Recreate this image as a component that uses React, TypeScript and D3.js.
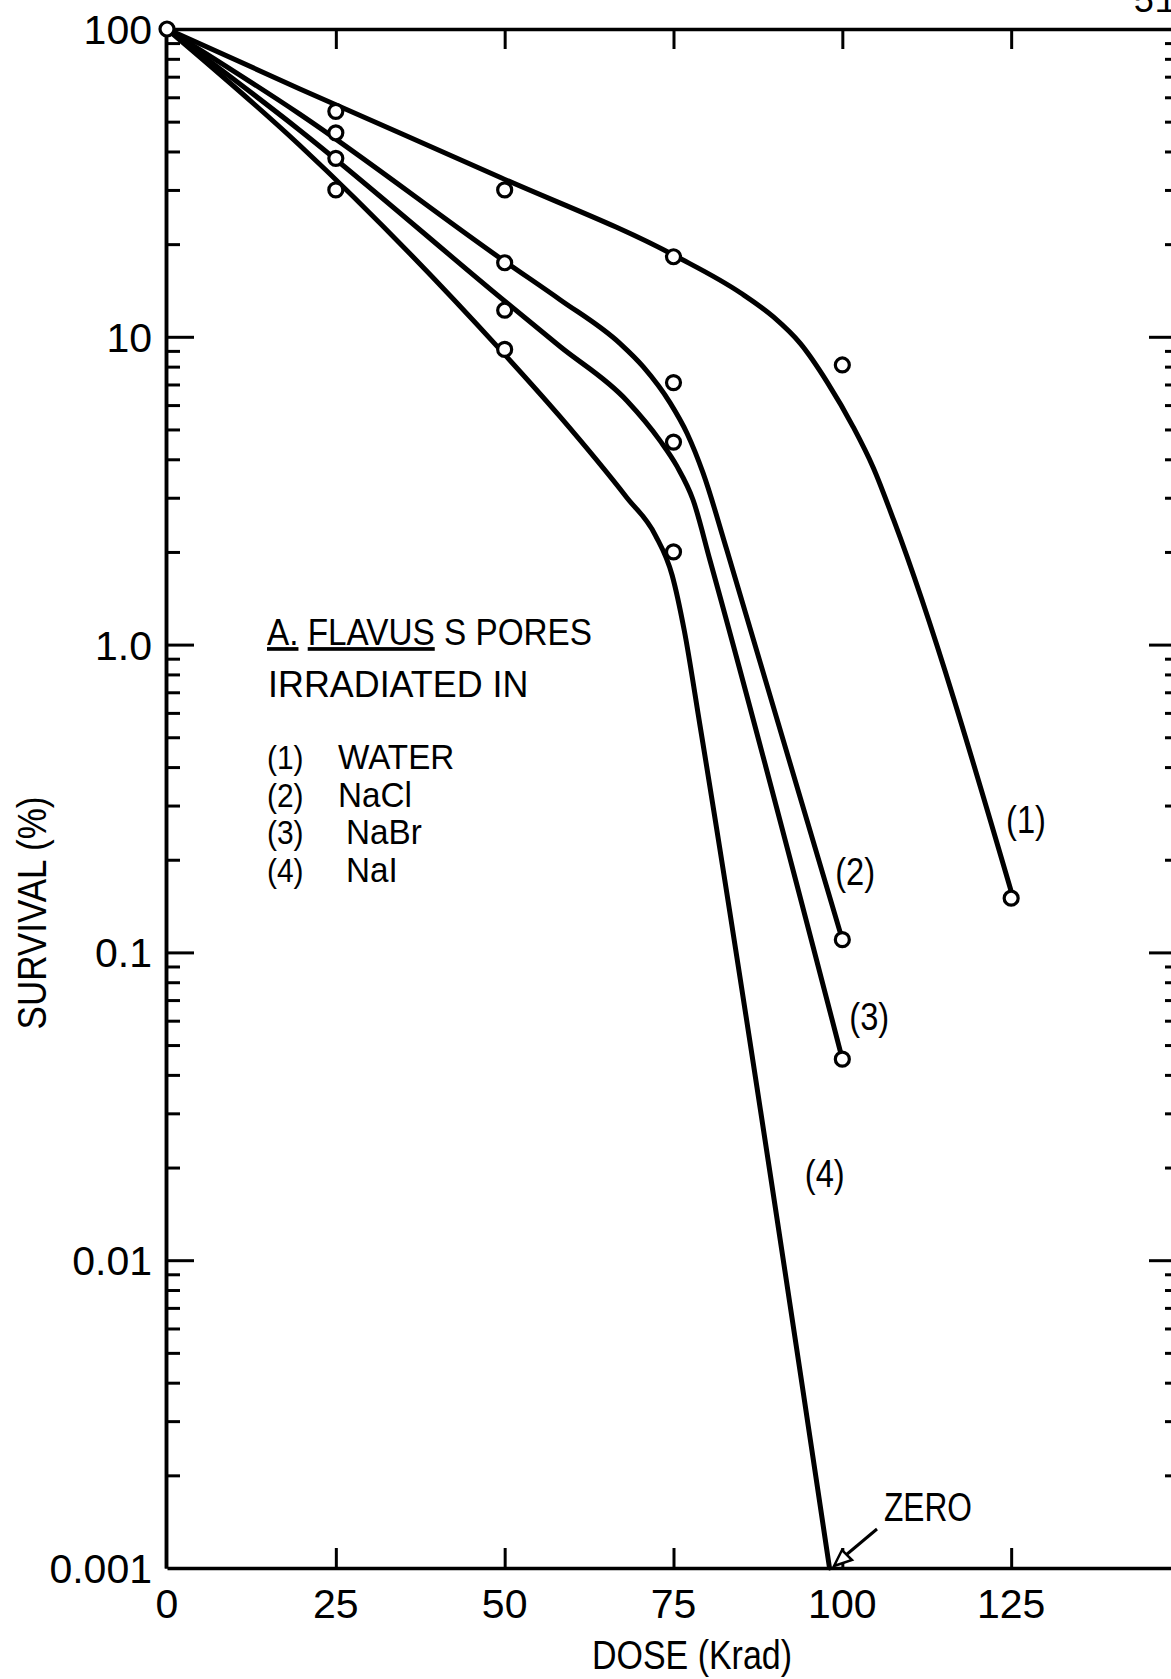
import React, { useEffect, useRef } from 'react';
import * as d3 from 'd3';

// Axis ticks
const doseTicks = [0, 25, 50, 75, 100, 125];
const survivalDecades = [100, 10, 1, 0.1, 0.01, 0.001];
const survivalLabels = ['100', '10', '1.0', '0.1', '0.01', '0.001'];

// Measured points [dose Krad, survival %]
const waterPoints: [number, number][] = [[0, 100], [25, 54], [50, 30], [75, 18.2], [100, 8.1], [125, 0.15]];
const naclPoints: [number, number][] = [[25, 46], [50, 17.4], [75, 7.1], [100, 0.11]];
const nabrPoints: [number, number][] = [[25, 38], [50, 12.2], [75, 4.55], [100, 0.045]];
const naiPoints: [number, number][] = [[25, 30], [50, 9.1], [75, 2.0]];

// Hand-fitted survival curves
const waterCurve: [number, number][] = [[0, 100], [19.6, 64], [49.3, 33], [75.5, 18.2], [84.9, 13.9], [89.8, 11.6], [93.8, 9.5], [97.8, 7.1], [101.6, 5.1], [104.6, 3.75], [107.6, 2.54], [125.3, 0.15]];
const naclCurve: [number, number][] = [[0, 100], [19.6, 53], [50.3, 17.4], [58.2, 13.2], [67.1, 9.5], [70.5, 8.0], [74.5, 6.1], [77, 4.86], [79.4, 3.6], [82.9, 2.03], [100, 0.11]];
const nabrCurve: [number, number][] = [[0, 100], [19.6, 47], [50.3, 12.9], [58.2, 9.3], [68.1, 6.2], [73, 4.6], [75.5, 3.8], [77.9, 2.95], [80.4, 1.88], [100, 0.045]];
const naiCurve: [number, number][] = [[0, 100], [19.6, 42], [49.3, 9.1], [58.2, 5.5], [68.1, 3.0], [72.3, 2.27], [74.8, 1.68], [76.6, 1.11], [78.9, 0.55], [98.1, 0.001]];

const curveTags = ['(1)', '(2)', '(3)', '(4)'];
const media = ['WATER', 'NaCl', 'NaBr', 'NaI'];

const FONT = "'Liberation Sans', Arial, sans-serif";

const App = () => {
  const ref = useRef<SVGSVGElement>(null);

  useEffect(() => {
    const svg = d3.select(ref.current);
    svg.selectAll('*').remove();

    const x = d3.scaleLinear().domain([0, 150]).range([167, 1180]);
    const y = d3.scaleLog().domain([0.001, 100]).range([1568, 29]);

    // minor log ticks 2..9 in every decade
    const minor: number[] = [];
    for (let e = -3; e < 2; e++) for (let m = 2; m <= 9; m++) minor.push(m * Math.pow(10, e));
    const inner = [10, 1, 0.1, 0.01];

    const axes = svg.append('g');
    const styleAxis = (g: any) => {
      g.selectAll('text').remove();
      g.selectAll('line').attr('stroke', '#000').attr('stroke-width', 3);
      g.selectAll('path').attr('stroke', '#000').attr('stroke-width', 3.5);
    };

    // left axis, ticks pointing inward
    axes.append('g').attr('transform', 'translate(166,0)')
      .call(d3.axisRight(y).tickValues(minor).tickSize(14).tickSizeOuter(0)).call(styleAxis);
    axes.append('g').attr('transform', 'translate(166,0)')
      .call(d3.axisRight(y).tickValues(inner).tickSize(28).tickSizeOuter(0)).call(styleAxis);

    // right axis (mostly off the page)
    axes.append('g').attr('transform', 'translate(1177,0)')
      .call(d3.axisLeft(y).tickValues(minor).tickSize(12).tickSizeOuter(0)).call(styleAxis);
    axes.append('g').attr('transform', 'translate(1177,0)')
      .call(d3.axisLeft(y).tickValues(inner).tickSize(28).tickSizeOuter(0)).call(styleAxis);

    // top and bottom axes
    axes.append('g').attr('transform', 'translate(0,29)')
      .call(d3.axisBottom(x).tickValues(doseTicks.slice(1)).tickSize(20).tickSizeOuter(0)).call(styleAxis);
    axes.append('g').attr('transform', 'translate(0,1568)')
      .call(d3.axisTop(x).tickValues(doseTicks.slice(1)).tickSize(20).tickSizeOuter(0)).call(styleAxis);

    // tick labels
    svg.append('g').selectAll('text').data(doseTicks).enter().append('text')
      .attr('x', (d) => x(d)).attr('y', 1618)
      .attr('text-anchor', 'middle').attr('font-family', FONT).attr('font-size', 41)
      .text((d) => d);

    svg.append('g').selectAll('text').data(survivalDecades).enter().append('text')
      .attr('x', 152).attr('y', (d) => y(d) + 15)
      .attr('text-anchor', 'end').attr('font-family', FONT).attr('font-size', 41)
      .text((d, i) => survivalLabels[i]);

    // axis titles
    svg.append('text')
      .attr('transform', 'translate(46,913) rotate(-90)')
      .attr('text-anchor', 'middle').attr('font-family', FONT).attr('font-size', 41)
      .attr('textLength', 233).attr('lengthAdjust', 'spacingAndGlyphs')
      .text('SURVIVAL (%)');
    svg.append('text')
      .attr('x', 592).attr('y', 1669)
      .attr('font-family', FONT).attr('font-size', 40)
      .attr('textLength', 200).attr('lengthAdjust', 'spacingAndGlyphs')
      .text('DOSE (Krad)');

    // curves
    const line = d3.line<[number, number]>()
      .x((d) => x(d[0])).y((d) => y(d[1]))
      .curve(d3.curveMonotoneX);
    [waterCurve, naclCurve, nabrCurve, naiCurve].forEach((c) => {
      svg.append('path').datum(c)
        .attr('d', line)
        .attr('fill', 'none').attr('stroke', '#000')
        .attr('stroke-width', 5).attr('stroke-linecap', 'round');
    });

    // measured points
    [waterPoints, naclPoints, nabrPoints, naiPoints].forEach((pts) => {
      svg.append('g').selectAll('circle').data(pts).enter().append('circle')
        .attr('cx', (d) => x(d[0])).attr('cy', (d) => y(d[1]))
        .attr('r', 7).attr('fill', '#fff')
        .attr('stroke', '#000').attr('stroke-width', 3.2);
    });

    // condensed text helper
    const cText = (t: string, px: number, py: number, size: number, sx = 0.88) =>
      svg.append('text')
        .attr('transform', `translate(${px},${py}) scale(${sx},1)`)
        .attr('font-family', FONT).attr('font-size', size)
        .text(t);

    // curve tags, anchored at their centre in data space
    const tagAt: [number, number][] = [[126.9, 0.269], [101.6, 0.182], [103.7, 0.0617], [97.1, 0.0191]];
    curveTags.forEach((t, i) => cText(t, x(tagAt[i][0]) - 18, y(tagAt[i][1]) + 13, 38, 0.86));

    // legend block
    const title = svg.append('text')
      .attr('transform', 'translate(267,645) scale(0.9,1)')
      .attr('font-family', FONT).attr('font-size', 37);
    title.append('tspan').attr('text-decoration', 'underline').text('A.');
    title.append('tspan').text(' ');
    title.append('tspan').attr('text-decoration', 'underline').text('FLAVUS');
    title.append('tspan').text(' S PORES');
    cText('IRRADIATED IN', 268, 697, 37, 0.97);

    media.forEach((m, i) => {
      const by = 769 + i * 37.5;
      cText(curveTags[i], 267, by, 34, 0.88);
      cText(m, i < 2 ? 338 : 346, by, 35, 0.95);
    });

    // ZERO marker with arrow
    svg.append('text')
      .attr('x', 884).attr('y', 1521)
      .attr('font-family', FONT).attr('font-size', 40)
      .attr('textLength', 88).attr('lengthAdjust', 'spacingAndGlyphs')
      .text('ZERO');
    svg.append('line')
      .attr('x1', 877).attr('y1', 1529).attr('x2', 846).attr('y2', 1555)
      .attr('stroke', '#000').attr('stroke-width', 3);
    svg.append('path')
      .attr('d', 'M834,1566 L842,1550 L852,1560 Z')
      .attr('fill', '#fff').attr('stroke', '#000').attr('stroke-width', 2.5);

    // page number, cut at top edge
    svg.append('text')
      .attr('x', 1133).attr('y', 12)
      .attr('font-family', "'Liberation Mono', monospace").attr('font-size', 36)
      .text('51');
  }, []);

  return (
    <svg
      ref={ref}
      width={1171}
      height={1679}
      style={{ position: 'absolute', left: 0, top: 0, background: '#fff' }}
    />
  );
};

export default App;
